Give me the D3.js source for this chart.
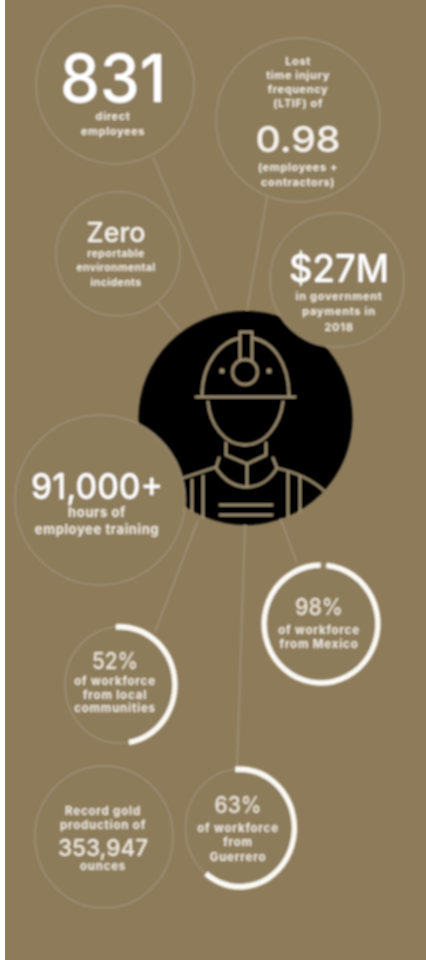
<!DOCTYPE html>
<html>
<head>
<meta charset="utf-8">
<script src="https://cdn.jsdelivr.net/npm/d3@7"></script>
<style>
  html, body { margin: 0; padding: 0; background: #fff; }
  svg { display: block; }
  text { font-family: Inter, "Open Sans", sans-serif; text-anchor: middle; }
</style>
</head>
<body>
<div id="vis"></div>
<script>
const FRAME_WIDTH = 426;
const FRAME_HEIGHT = 960;
const BG = "#8d7b5a";
const FAINT = "#a09175";
const INK = "#fbf9f4";

// values
const headlines = ["831", "0.98", "Zero", "$27M", "91,000+", "98%", "52%", "63%", "353,947"];
const captions = [
  ["direct", "employees"],
  ["Lost", "time injury", "frequency", "(LTIF) of"],
  ["reportable", "environmental", "incidents"],
  ["in government", "payments in", "2018"],
  ["hours of", "employee training"],
  ["of workforce", "from Mexico"],
  ["of workforce", "from local", "communities"],
  ["of workforce", "from", "Guerrero"],
  ["Record gold", "production of"]
];
const afterCaptions = { 1: ["(employees +", "contractors)"], 8: ["ounces"] };
// share of the ring that is drawn white, as it appears in the picture
const ringHeadlines = ["98%", "52%", "63%"];
const ringShares = [98.4, 48.6, 62.2];
const ringStarts = [1.5, -1.2, -1.4];

// layout, one entry per headline. sy stretches the ring bubbles, the picture is a bit tall
const BUBBLES = [
  {x: 115, y: 85, r: 79, sy: 1, tx: 113, hy: 102, hs: 66, hw: 106, hc: "#fff", cap: [120, 135], cs: 11, ls: 0.6},
  {x: 298, y: 120, r: 82, sy: 1, tx: 298, hy: 152, hs: 36, hw: 85, hc: "#f6f3ec", cap: [65, 79, 93, 107], after: [171, 186], cs: 11, ls: 0.6},
  {x: 118, y: 254, r: 62, sy: 1, tx: 116, hy: 242, hs: 27, hw: 59, hc: "#f6f3ec", cap: [257, 271, 286], cs: 10.5, ls: 0.4},
  {x: 337, y: 280, r: 67, sy: 1, tx: 339, hy: 282, hs: 38, hw: 100, hc: "#fff", cap: [300, 315, 331], cs: 11, ls: 0.7},
  {x: 100, y: 500, r: 85, sy: 1, tx: 97, hy: 499, hs: 36, hw: 132, hc: "#fff", cap: [517, 534], cs: 13, ls: 0.6},
  {x: 321, y: 624, r: 57, sy: 1.035, tx: 319, hy: 615, hs: 23, hw: 48, hc: "#e9e3d6", cap: [634, 648], cs: 11.5, ls: 0.8},
  {x: 120, y: 685, r: 55, sy: 1.06, tx: 115, hy: 669, hs: 23, hw: 46, hc: "#e9e3d6", cap: [685, 699, 712], cs: 11.5, ls: 0.8},
  {x: 240, y: 828, r: 54.5, sy: 1.08, tx: 238, hy: 813, hs: 23, hw: 47, hc: "#e9e3d6", cap: [832, 846, 861], cs: 11.5, ls: 0.8},
  {x: 104, y: 837, r: 69, sy: 1.03, tx: 103, hy: 856, hs: 23, hw: 90, hc: "#eee9de", cap: [815, 829], after: [870], cs: 11.5, ls: 0.8}
];
const CONNECTORS = [
  [153, 157, 217, 310],
  [267, 198, 247, 310],
  [158, 303, 180, 330],
  [155, 632, 198, 520],
  [237, 767, 245, 525],
  [297, 563, 279, 515]
];

const FRAME = d3.select("#vis")
  .append("svg")
    .attr("width", FRAME_WIDTH)
    .attr("height", FRAME_HEIGHT);

FRAME.append("defs").append("filter")
    .attr("id", "soft")
    .attr("filterUnits", "userSpaceOnUse")
    .attr("x", 5).attr("y", 0).attr("width", FRAME_WIDTH).attr("height", FRAME_HEIGHT)
  .append("feGaussianBlur")
    .attr("stdDeviation", 0.85);

FRAME.append("rect")
    .attr("x", 5)
    .attr("width", FRAME_WIDTH - 5)
    .attr("height", FRAME_HEIGHT)
    .attr("fill", BG);

const G = FRAME.append("g").attr("filter", "url(#soft)");

// lines from the worker out to the bubbles
G.selectAll(".connector")
  .data(CONNECTORS)
  .enter()
  .append("line")
    .attr("class", "connector")
    .attr("x1", (d) => d[0]).attr("y1", (d) => d[1])
    .attr("x2", (d) => d[2]).attr("y2", (d) => d[3])
    .attr("stroke", FAINT)
    .attr("stroke-width", 1.6);

// worker icon
const DISC = {x: 245.5, y: 418, r: 107};
G.append("circle")
    .attr("cx", DISC.x).attr("cy", DISC.y).attr("r", DISC.r)
    .attr("fill", "#050505");

const ICON = G.append("g")
    .attr("fill", "none")
    .attr("stroke", "#a39373")
    .attr("stroke-width", 2.3)
    .attr("stroke-linecap", "round")
    .attr("stroke-linejoin", "round");

const iconPaths = [
  "M202 396 C202 362 222 341 240 338 M252 338 C272 341 289 362 289 396", // helmet
  "M196 397 H295",
  "M240 360 V332 H252 V360",
  "M208 402 C210 425 225 445 245 445 C265 445 280 425 283 402", // face
  "M226 443 V455 L247 464 L266 455 V443",
  "M219 458 L216 468 C224 480 235 487 247 487 C259 487 270 480 277 468 L273 458", // collar
  "M247 465 V487",
  "M183 478 L216 467",
  "M277 468 C298 473 312 480 323 490",
  "M192 480 V511", "M203 476 V518",
  "M288 473 V516", "M300 476 V512",
  "M220 505 H272", "M220 515 H272"
];
ICON.selectAll("path")
  .data(iconPaths)
  .enter()
  .append("path")
    .attr("d", (d) => d);
ICON.append("circle").attr("cx", 245).attr("cy", 372).attr("r", 12.5);
[222, 269].forEach((x) => {
  ICON.append("circle").attr("cx", x).attr("cy", 371).attr("r", 2.4).attr("fill", "#a39373").attr("stroke", "none");
});

// bubbles go over the disc, which is what bites the two notches out of it
G.selectAll(".bubble")
  .data(BUBBLES)
  .enter()
  .append("ellipse")
    .attr("class", "bubble")
    .attr("cx", (d) => d.x).attr("cy", (d) => d.y)
    .attr("rx", (d) => d.r).attr("ry", (d) => d.r * d.sy)
    .attr("fill", BG)
    .attr("stroke", FAINT)
    .attr("stroke-width", 1.4);

// white progress arcs
const ANGLE = d3.scaleLinear().domain([0, 100]).range([0, 2 * Math.PI]);
ringShares.forEach((share, i) => {
  const b = BUBBLES[headlines.indexOf(ringHeadlines[i])];
  const start = ANGLE(ringStarts[i]);
  G.append("path")
      .attr("transform", "translate(" + b.x + "," + b.y + ") scale(1," + b.sy + ")")
      .attr("d", d3.arc()
        .innerRadius(b.r - 2.7)
        .outerRadius(b.r + 2.7)
        .startAngle(start)
        .endAngle(start + ANGLE(share))())
      .attr("fill", INK);
});

// headline and caption text
BUBBLES.forEach((b, i) => {
  G.append("text")
      .attr("x", b.tx).attr("y", b.hy)
      .attr("font-size", b.hs)
      .attr("font-weight", 500)
      .attr("textLength", b.hw)
      .attr("lengthAdjust", "spacingAndGlyphs")
      .attr("fill", b.hc)
      .text(headlines[i]);

  const rows = captions[i].map((t, k) => [t, b.cap[k]])
    .concat((afterCaptions[i] || []).map((t, k) => [t, b.after[k]]));
  rows.forEach((row) => {
    G.append("text")
        .attr("x", b.tx).attr("y", row[1])
        .attr("font-size", b.cs)
        .attr("font-weight", 700)
        .attr("letter-spacing", b.ls)
        .attr("fill", "#efeadf")
        .text(row[0]);
  });
});
</script>
</body>
</html>
